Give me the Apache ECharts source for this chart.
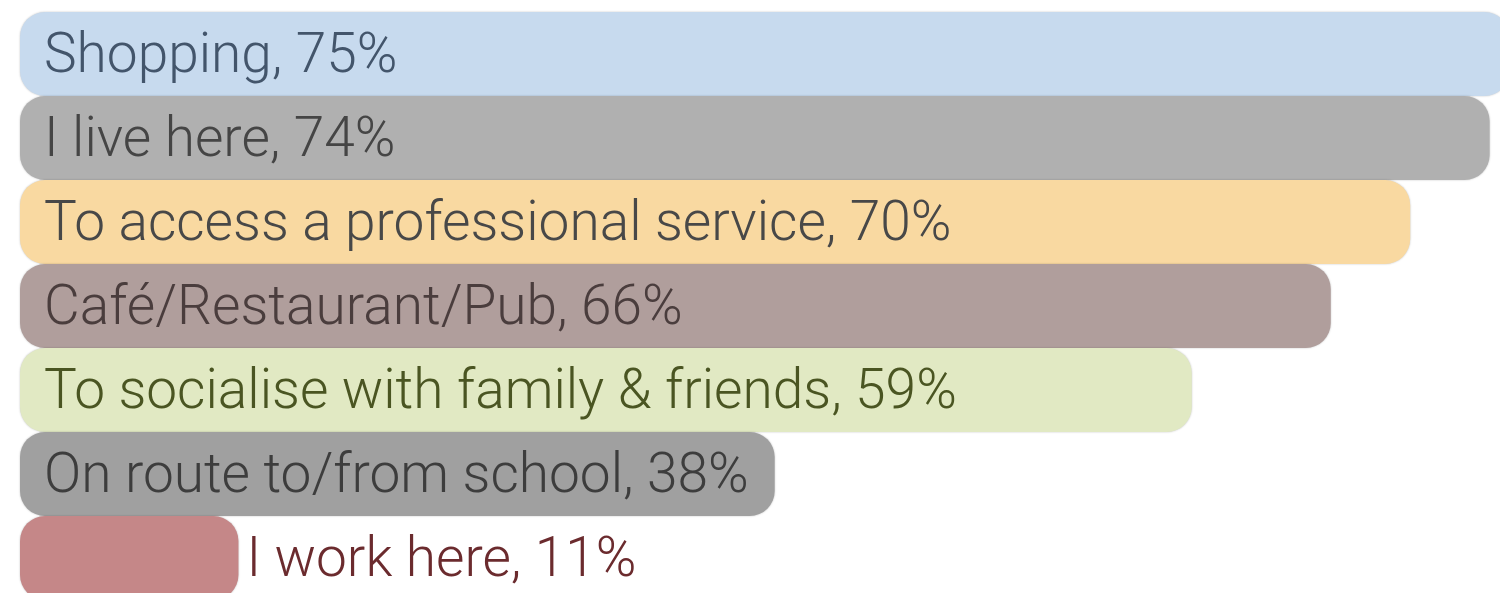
<!DOCTYPE html>
<html>
<head>
<meta charset="utf-8">
<script src="https://cdn.jsdelivr.net/npm/echarts@6/dist/echarts.min.js"></script>
<style>
  html, body { margin: 0; padding: 0; background: #fff; }
  #chart { width: 1500px; height: 593px; }
</style>
</head>
<body>
<div id="chart"></div>
<script>
// reasons for visiting, share of respondents (%)
const categories = ['Shopping', 'I live here', 'To access a professional service', 'Café/Restaurant/Pub',
  'To socialise with family & friends', 'On route to/from school', 'I work here'];
const values = [75, 74, 70, 66, 59, 38, 11];
const barColors = ['#c7daee', '#b0b0b0', '#f9d9a1', '#b09e9c', '#e1e9c3', '#a0a0a0', '#c58788'];
const textColors = ['#43556b', '#454545', '#484848', '#4a3d3d', '#4a5522', '#3d3d3d', '#6b2b2e'];

const chart = echarts.init(document.getElementById('chart'));

const data = values.map((v, i) => ({
  value: v,
  itemStyle: { color: barColors[i] },
  label: {
    color: textColors[i],
    position: v < 20 ? 'right' : 'insideLeft',
    distance: v < 20 ? 8 : 24
  }
}));

chart.setOption({
  animation: false,
  grid: { left: 20, top: 12, width: 1986, height: 588, outerBoundsMode: 'none', containLabel: false },
  xAxis: { type: 'value', min: 0, max: 100, show: false },
  yAxis: { type: 'category', data: categories, inverse: true, show: false },
  series: [{
    type: 'bar',
    data: data,
    barCategoryGap: 0,
    itemStyle: {
      borderRadius: 25,
      shadowColor: 'rgba(0,0,0,0.25)',
      shadowBlur: 2
    },
    label: {
      show: true,
      fontFamily: 'Roboto',
      fontWeight: 300,
      fontSize: 55,
      offset: [0, 4],
      formatter: '{b}, {c}%'
    }
  }]
});
</script>
</body>
</html>
